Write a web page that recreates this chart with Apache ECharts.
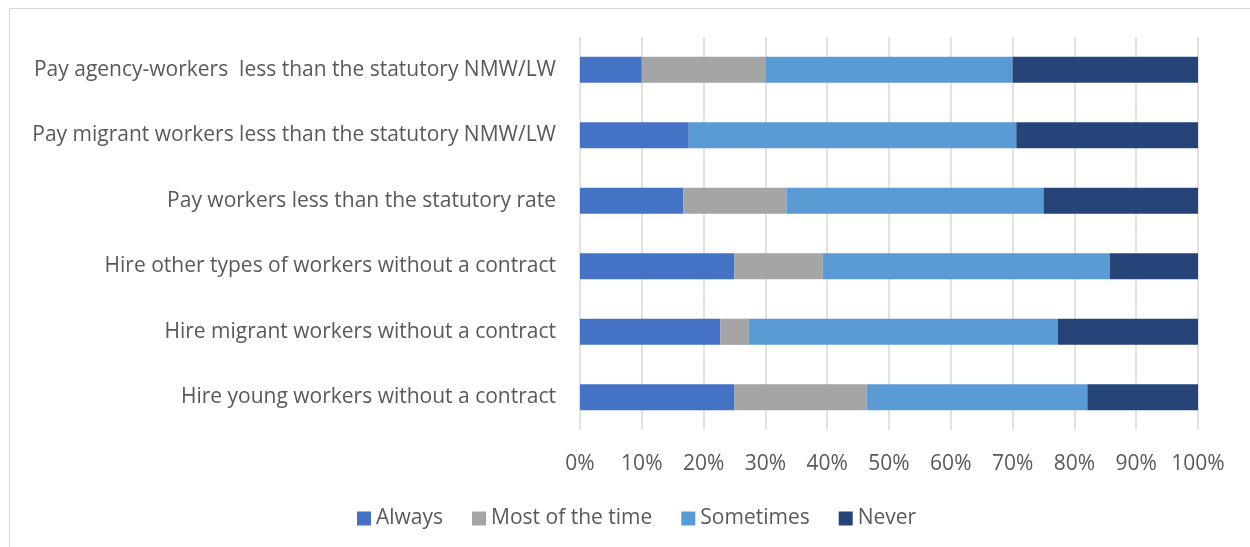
<!DOCTYPE html>
<html>
<head>
<meta charset="utf-8">
<script src="https://cdn.jsdelivr.net/npm/echarts@6/dist/echarts.min.js"></script>
<style>
  html, body { margin: 0; padding: 0; background: #fff; }
  #chart { width: 1250px; height: 547px; }
</style>
</head>
<body>
<div id="chart"></div>
<script>
// categories top to bottom
const categories = [
  'Pay agency-workers  less than the statutory NMW/LW',
  'Pay migrant workers less than the statutory NMW/LW',
  'Pay workers less than the statutory rate',
  'Hire other types of workers without a contract',
  'Hire migrant workers without a contract',
  'Hire young workers without a contract'
]
// shares in %
const always = [10, 17.6, 16.7, 25, 22.7, 25]
const mostOfTheTime = [20, 0, 16.7, 14.3, 4.6, 21.4]
const sometimes = [40, 53, 41.6, 46.4, 50, 35.7]
const never = [30, 29.4, 25, 14.3, 22.7, 17.9]
const xTicks = ['0%', '10%', '20%', '30%', '40%', '50%', '60%', '70%', '80%', '90%', '100%']

const textColor = '#595959'
const font = 'Open Sans'

const seriesDefs = [
  { name: 'Always', data: always, color: '#4472C4' },
  { name: 'Most of the time', data: mostOfTheTime, color: '#A5A5A5' },
  { name: 'Sometimes', data: sometimes, color: '#5B9BD5' },
  { name: 'Never', data: never, color: '#264478' }
]

const chart = echarts.init(document.getElementById('chart'))
const option = {
  animation: false,
  graphic: [
    {
      type: 'rect',
      shape: { x: 9.5, y: 8.5, width: 1300, height: 600 },
      style: { fill: 'none', stroke: '#D9D9D9', lineWidth: 1 },
      silent: true
    }
  ],
  legend: {
    bottom: 13,
    left: 352,
    itemWidth: 14,
    itemHeight: 14,
    itemGap: 29,
    icon: 'rect',
    textStyle: { color: textColor, fontSize: 21, fontFamily: font }
  },
  grid: {
    left: 580,
    right: 52,
    top: 37,
    bottom: 117
  },
  xAxis: {
    type: 'value',
    min: 0,
    max: 100,
    interval: 10,
    axisLine: { show: false },
    axisTick: { show: false },
    splitLine: { lineStyle: { color: '#D9D9D9', width: 1.5 } },
    axisLabel: {
      color: textColor,
      fontSize: 21,
      fontFamily: font,
      margin: 24,
      formatter: (v) => xTicks[Math.round(v / 10)]
    }
  },
  yAxis: {
    type: 'category',
    inverse: true,
    data: categories,
    axisLine: { show: false },
    axisTick: { show: false },
    axisLabel: {
      color: textColor,
      fontSize: 21,
      fontFamily: font,
      margin: 24
    }
  },
  series: seriesDefs.map(s => ({
    name: s.name,
    type: 'bar',
    stack: 'total',
    data: s.data,
    barWidth: '40%',
    itemStyle: { color: s.color }
  }))
}
chart.setOption(option)
</script>
</body>
</html>
